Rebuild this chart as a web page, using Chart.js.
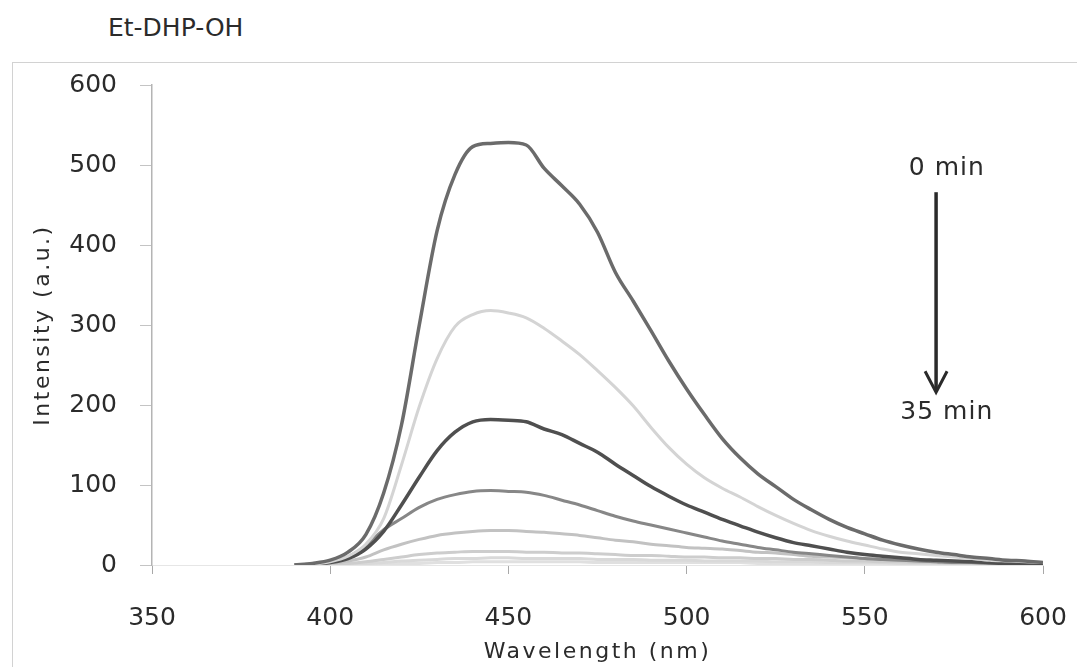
<!DOCTYPE html>
<html>
<head>
<meta charset="utf-8">
<title>Et-DHP-OH</title>
<script src="https://cdn.jsdelivr.net/npm/chart.js@4.4.1/dist/chart.umd.min.js"></script>
<style>
  html, body { margin: 0; padding: 0; background: #fff; overflow: hidden; }
  #frame {
    position: absolute; left: 12px; top: 62px; width: 1200px; height: 700px;
    border: 1px solid #d2d2d2;
  }
  #title {
    position: absolute; left: 108px; top: 13px;
    font: 25px/30px "DejaVu Sans", sans-serif; color: #2b2b2b;
  }
  #spectra { position: absolute; left: 0; top: 0; }
</style>
</head>
<body>
<div id="frame"></div>
<div id="title">Et-DHP-OH</div>
<canvas id="spectra" width="1077" height="667"></canvas>

<script>
// emission wavelengths (nm)
const wavelengths = [390, 395, 400, 405, 410, 415, 420, 425, 430, 435, 440, 445, 450, 455, 460,
  465, 470, 475, 480, 485, 490, 495, 500, 505, 510, 515, 520, 525, 530, 535, 540,
  545, 550, 555, 560, 565, 570, 575, 580, 585, 590, 595, 600];

// intensity (a.u.) for each irradiation time
const min0 = [0, 2, 6, 16, 38, 90, 175, 300, 418, 488, 523, 527, 528, 525, 496,
  474, 451, 416, 366, 330, 293, 255, 220, 188, 158, 134, 114, 98, 82, 69, 57,
  47, 39, 31, 25, 20, 16, 13, 10, 8, 6, 5, 3];
const min5 = [0, 1, 4, 11, 26, 58, 125, 198, 258, 298, 313, 318, 315, 309, 296,
  280, 263, 243, 222, 199, 172, 147, 126, 109, 96, 85, 73, 62, 52, 43, 36,
  30, 25, 20, 16, 14, 12, 10, 8, 6, 5, 4, 3];
const min10 = [0, 1, 3, 8, 20, 42, 75, 110, 143, 166, 179, 182, 181, 179, 170,
  163, 152, 141, 126, 112, 98, 86, 75, 66, 57, 49, 41, 34, 28, 24, 20,
  16, 13, 11, 9, 7, 6, 5, 4, 3, 2, 2, 1];
const min15 = [0, 1, 3, 10, 24, 44, 58, 72, 82, 88, 92, 93, 92, 91, 87,
  81, 75, 68, 61, 55, 50, 45, 40, 35, 30, 26, 22, 19, 16, 14, 12,
  10, 8, 7, 6, 5, 4, 3, 3, 2, 2, 1, 1];
const min20 = [0, 0, 2, 5, 10, 19, 26, 32, 37, 40, 42, 43, 43, 42, 41,
  39, 37, 34, 31, 29, 26, 24, 22, 21, 20, 18, 16, 15, 13, 11, 10,
  9, 8, 7, 6, 5, 4, 3, 3, 2, 2, 1, 1];
const min25 = [0, 0, 1, 2, 4, 7, 10, 13, 15, 16, 17, 17, 17, 16, 16,
  15, 15, 14, 13, 12, 12, 11, 10, 10, 9, 9, 8, 8, 7, 7, 6,
  5, 5, 4, 4, 3, 3, 2, 2, 2, 1, 1, 1];
const min30 = [0, 0, 0, 1, 2, 3, 5, 6, 7, 8, 8, 9, 9, 8, 8,
  8, 8, 7, 7, 7, 6, 6, 6, 5, 5, 5, 5, 4, 4, 4, 3,
  3, 3, 3, 2, 2, 2, 2, 1, 1, 1, 1, 1];
const min35 = [0, 0, 0, 0, 1, 1, 2, 2, 3, 3, 4, 4, 4, 4, 4,
  4, 4, 3, 3, 3, 3, 3, 3, 3, 3, 3, 2, 2, 2, 2, 2,
  2, 2, 2, 1, 1, 1, 1, 1, 1, 1, 1, 0];

const seriesNames = ['0 min', '5 min', '10 min', '15 min', '20 min', '25 min', '30 min', '35 min'];
const seriesValues = [min0, min5, min10, min15, min20, min25, min30, min35];
const seriesColors = ['#6b6b6b', '#d4d4d4', '#4f4f4f', '#878787', '#c2c2c2', '#cdcdcd', '#d9d9d9', '#e0e0e0'];

const xTicks = [350, 400, 450, 500, 550, 600];
const yTicks = [0, 100, 200, 300, 400, 500, 600];

// arrow from "0 min" down to "35 min", in data units
const arrow = { x: 570, top: 466, bottom: 216, labelX: 573, startLabelY: 496, endLabelY: 191 };

const textColor = '#2b2b2b';
const fontFamily = '"DejaVu Sans", sans-serif';

const datasets = seriesValues.map((vals, i) => ({
  label: seriesNames[i],
  data: wavelengths.map((w, j) => ({ x: w, y: vals[j] })),
  borderColor: seriesColors[i],
  borderWidth: i === 0 || i === 2 ? 3.5 : 3,
  pointRadius: 0,
  cubicInterpolationMode: 'monotone',
  fill: false
}));

// axis titles (letter-spaced) and the time arrow
const decorations = {
  id: 'decorations',
  afterDraw(chart) {
    const { ctx, chartArea, scales: { x, y } } = chart;
    ctx.save();
    ctx.fillStyle = textColor;
    ctx.textAlign = 'center';
    ctx.textBaseline = 'middle';

    ctx.font = '22px ' + fontFamily;
    ctx.letterSpacing = '2.5px';
    ctx.fillText('Wavelength (nm)', (chartArea.left + chartArea.right) / 2, 652);
    ctx.save();
    ctx.translate(43, (chartArea.top + chartArea.bottom) / 2);
    ctx.rotate(-Math.PI / 2);
    ctx.fillText('Intensity (a.u.)', 0, 0);
    ctx.restore();

    ctx.font = '25px ' + fontFamily;
    ctx.letterSpacing = '1px';
    const lx = x.getPixelForValue(arrow.labelX);
    ctx.fillText('0 min', lx, y.getPixelForValue(arrow.startLabelY));
    ctx.fillText('35 min', lx, y.getPixelForValue(arrow.endLabelY));

    const ax = x.getPixelForValue(arrow.x);
    const ay0 = y.getPixelForValue(arrow.top);
    const ay1 = y.getPixelForValue(arrow.bottom);
    ctx.strokeStyle = '#2a2a2a';
    ctx.lineWidth = 3.5;
    ctx.beginPath();
    ctx.moveTo(ax, ay0);
    ctx.lineTo(ax, ay1 - 2);
    ctx.stroke();
    ctx.lineWidth = 3;
    ctx.beginPath();
    ctx.moveTo(ax - 11, ay1 - 21);
    ctx.lineTo(ax, ay1);
    ctx.lineTo(ax + 11, ay1 - 21);
    ctx.stroke();
    ctx.restore();
  }
};

new Chart(document.getElementById('spectra'), {
  type: 'line',
  data: { datasets },
  options: {
    responsive: false,
    animation: false,
    devicePixelRatio: 1,
    layout: { padding: { top: 85, right: 34, left: 0, bottom: 0 } },
    plugins: {
      legend: { display: false },
      tooltip: { enabled: false },
      title: { display: false }
    },
    scales: {
      x: {
        type: 'linear',
        min: 350,
        max: 600,
        afterFit: s => {
          s.height = 102;
          // the end labels may hang past the plot, don't shrink it for them
          s.paddingLeft = 0;
          s.paddingRight = 0;
        },
        afterBuildTicks: s => { s.ticks = xTicks.map(v => ({ value: v })); },
        border: { display: true, color: '#e6e6e6', width: 1 },
        grid: { drawOnChartArea: false, drawTicks: true, tickLength: 9, color: '#a8a8a8' },
        ticks: { padding: 29, color: textColor, font: { family: fontFamily, size: 25 }, maxRotation: 0 }
      },
      y: {
        min: 0,
        max: 600,
        afterFit: s => { s.width = 152; },
        afterBuildTicks: s => { s.ticks = yTicks.map(v => ({ value: v })); },
        border: { display: true, color: '#b4b4b4', width: 1.5 },
        grid: { drawOnChartArea: false, drawTicks: true, tickLength: 12, color: '#c4c4c4' },
        ticks: { padding: 23, color: textColor, font: { family: fontFamily, size: 25 } }
      }
    }
  },
  plugins: [decorations]
});
</script>
</body>
</html>
